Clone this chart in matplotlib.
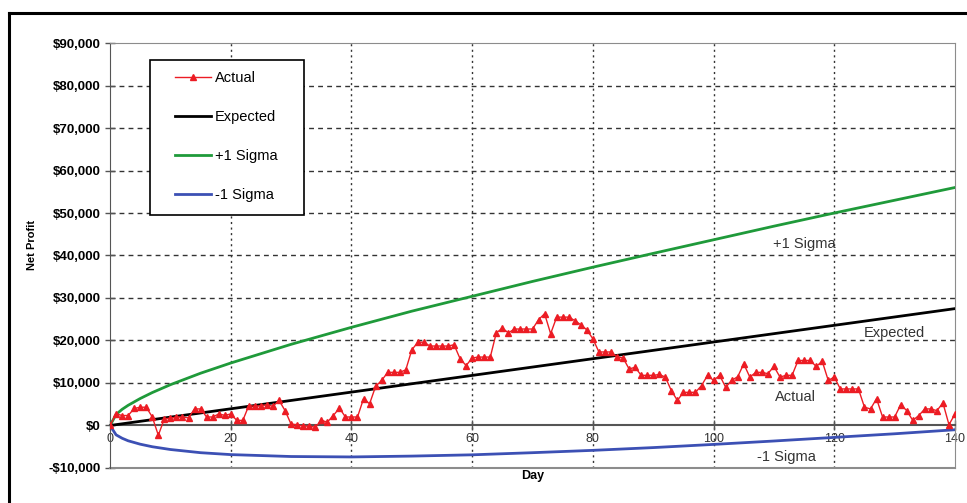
import matplotlib
matplotlib.use("Agg")
import matplotlib.pyplot as plt
from matplotlib.lines import Line2D
from matplotlib.patches import Rectangle
from matplotlib.ticker import FuncFormatter

plt.rcParams['font.family'] = ['Liberation Sans', 'DejaVu Sans']

# Actual net profit, one value per day
days = list(range(141))
actual = [0, 2750, 2350, 2350, 4000, 4300, 4300, 2000, -2300, 1600,
          1700, 2000, 2000, 1800, 3900, 3900, 2000, 2000, 2700, 2400,
          2700, 1200, 1200, 4700, 4500, 4700, 4900, 4500, 5900, 3500,
          300, 200, -150, -150, -400, 1200, 800, 2350, 4100, 2000,
          2000, 2000, 6300, 5100, 9200, 10600, 12500, 12500, 12500, 13100,
          17800, 19600, 19600, 18700, 18700, 18700, 18700, 19000, 15700, 14100,
          15900, 16100, 16100, 16100, 21800, 22900, 21800, 22700, 22700, 22700,
          22700, 24900, 26300, 21600, 25500, 25500, 25500, 24700, 23700, 22500,
          20400, 17300, 17300, 17300, 16100, 15900, 13300, 13700, 11800, 11800,
          11800, 12000, 11400, 8200, 5900, 7800, 7800, 7800, 9400, 11800,
          10600, 11800, 9000, 10600, 11500, 14500, 11400, 12500, 12500, 12200,
          13900, 11400, 11800, 11800, 15300, 15300, 15300, 13900, 15100, 10600,
          11400, 8600, 8600, 8600, 8600, 4300, 3900, 6300, 2000, 2000,
          2000, 4900, 3500, 1200, 2350, 3900, 3900, 3500, 5300, 200, 2700]

# Expected: straight line
exp_days = [0, 140]
expected = [0, 27500]

# Sigma bands, sampled days
sig_days = [0, 1, 2, 3, 5, 7, 10, 15, 20, 30, 40, 50, 60, 70, 80, 90, 100, 110, 120, 130, 140]
plus_sigma = [0, 2600, 3800, 4750, 6350, 7750, 9600, 12300, 14700, 19100, 23100, 26900,
              30400, 33900, 37250, 40500, 43700, 46900, 50000, 53000, 56000]
minus_sigma = [0, -2200, -3000, -3600, -4400, -5000, -5650, -6400, -6850, -7300, -7400, -7200,
               -6900, -6400, -5850, -5200, -4450, -3650, -2800, -1950, -1000]

fig = plt.figure(figsize=(9.67, 5.03), dpi=100)
ax = fig.add_axes([0.1138, 0.0696, 0.8738, 0.8449])

ax.plot(sig_days, plus_sigma, color='#1f9a3a', lw=2, label='+1 Sigma', zorder=3)
ax.plot(sig_days, minus_sigma, color='#3c50b4', lw=2, label='-1 Sigma', zorder=3)
ax.plot(exp_days, expected, color='black', lw=2, label='Expected', zorder=3)
ax.plot(days, actual, color='#ec1c24', lw=1, marker='^', markersize=4,
        label='Actual', zorder=4)

ax.set_xlim(0, 140)
ax.set_ylim(-10000, 90000)
ax.set_xticks(range(0, 141, 20))
ax.set_yticks(range(-10000, 90001, 10000))
ax.yaxis.set_major_formatter(FuncFormatter(
    lambda v, p: ('-$' if v < 0 else '$') + format(abs(int(v)), ',')))

# gridlines: dashed horizontal, dotted vertical
for v in range(10000, 90000, 10000):
    ax.axhline(v, color='#333333', lw=1, ls=(0, (3.5, 3)), zorder=1)
for d in range(20, 140, 20):
    ax.axvline(d, color='#333333', lw=1, ls=(0, (1.5, 2.5)), zorder=1)

for s in ['top', 'right']:
    ax.spines[s].set_color('#8c8c8c')
ax.spines['left'].set_color('#555555')
ax.spines['bottom'].set_position(('data', 0))
ax.spines['bottom'].set_color('#555555')
ax.spines['bottom'].set_linewidth(1.5)
ax.axhline(-10000, color='#8c8c8c', lw=1.5, clip_on=False)

ax.tick_params(axis='y', direction='inout', length=7, width=1, color='#555555', pad=3,
               labelsize=9.5)
ax.tick_params(axis='x', direction='inout', length=7, width=1, color='#555555', pad=2,
               labelsize=9, labelcolor='#333333')
for t in ax.get_yticklabels():
    t.set_fontweight('bold')

ax.set_xlabel('Day', fontsize=9, fontweight='bold')
ax.xaxis.set_label_coords(0.5, -0.005)
ax.set_ylabel('Net Profit', fontsize=8, fontweight='bold')
ax.yaxis.set_label_coords(-0.086, 0.525)

# labels next to the lines
ax.text(115, 42600, '+1 Sigma', fontsize=10.5, color='#333333', ha='center', va='center')
ax.text(130, 21650, 'Expected', fontsize=10.5, color='#333333', ha='center', va='center')
ax.text(113.5, 6600, 'Actual', fontsize=10.5, color='#333333', ha='center', va='center')
ax.text(112, -7500, '-1 Sigma', fontsize=10.5, color='#333333', ha='center', va='center')

# legend box drawn separately, entries placed inside it
ax.add_patch(Rectangle((150 / 967, 1 - 215 / 503), 154 / 967, 155 / 503,
                       transform=fig.transFigure, facecolor='white', clip_on=False,
                       edgecolor='black', lw=1.2, zorder=9))
h, l = ax.get_legend_handles_labels()
order = [3, 2, 0, 1]
leg = ax.legend([h[i] for i in order], [l[i] for i in order],
                loc='upper left', bbox_to_anchor=(175 / 967, 1 - 71 / 503),
                bbox_transform=fig.transFigure, borderaxespad=0, borderpad=0,
                frameon=False, fontsize=10.5, numpoints=1,
                handlelength=2.5, handletextpad=0.25, labelspacing=1.71)
leg.set_zorder(10)

# outer frame (top and left visible)
fig.add_artist(Line2D([9 / 967, 1], [1 - 13 / 503, 1 - 13 / 503], color='black', lw=2.2))
fig.add_artist(Line2D([9 / 967, 9 / 967], [0, 1 - 13 / 503], color='black', lw=2.2))

fig.savefig('out.png', dpi=100)
